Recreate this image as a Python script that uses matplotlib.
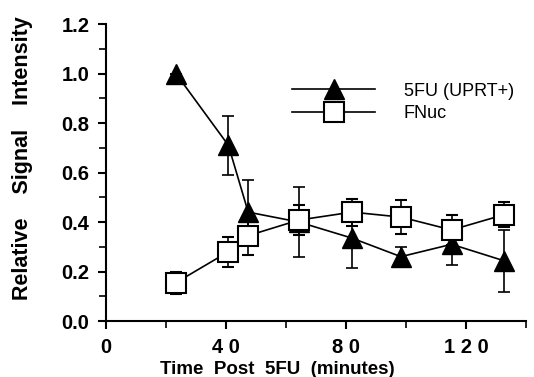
import matplotlib
matplotlib.use("Agg")
import matplotlib.pyplot as plt
from matplotlib.lines import Line2D
from matplotlib.ticker import MultipleLocator, FixedLocator, FormatStrFormatter

plt.rcParams['font.family'] = ['Liberation Sans', 'DejaVu Sans']

# time points (minutes)
time = [23.3, 40.8, 47.4, 64.3, 82.0, 98.3, 115.2, 132.8]

# 5FU (UPRT+)  - filled triangles
fu_mean = [1.00, 0.71, 0.44, 0.40, 0.335, 0.26, 0.31, 0.243]
fu_err = [0.0, 0.12, 0.13, 0.14, 0.12, 0.04, 0.085, 0.125]

# FNuc - open squares
fnuc_mean = [0.155, 0.28, 0.345, 0.408, 0.44, 0.42, 0.368, 0.43]
fnuc_err = [0.045, 0.06, 0.08, 0.06, 0.055, 0.07, 0.06, 0.05]

xtick_pos = [0, 40, 80, 120]
xtick_labels = ["0", "4 0", "8 0", "1 2 0"]

fig = plt.figure(figsize=(5.34, 3.77), dpi=100)
ax = fig.add_axes([0.1985, 0.1485, 0.7865, 0.7877])

ax.errorbar(time, fu_mean, yerr=fu_err, color='black', marker='^', markersize=14,
            markerfacecolor='black', linewidth=1.2, elinewidth=1.2, capsize=4,
            capthick=1.2, zorder=2)
ax.errorbar(time, fnuc_mean, yerr=fnuc_err, color='black', marker='s', markersize=15,
            markerfacecolor='white', markeredgewidth=1.5, linewidth=1.2,
            elinewidth=1.2, capsize=4, capthick=1.2, zorder=3)

ax.set_xlim(0, 140)
ax.set_ylim(0, 1.2)

ax.xaxis.set_major_locator(FixedLocator(xtick_pos))
ax.set_xticklabels(xtick_labels)
ax.xaxis.set_minor_locator(FixedLocator([20, 60, 100, 140]))
ax.yaxis.set_major_locator(MultipleLocator(0.2))
ax.yaxis.set_minor_locator(MultipleLocator(0.1))
ax.yaxis.set_major_formatter(FormatStrFormatter('%.1f'))

ax.tick_params(which='major', direction='out', length=6, width=1.5, labelsize=14.5)
ax.tick_params(which='minor', direction='out', length=5, width=1.2)
ax.tick_params(axis='x', which='major', pad=6)
ax.tick_params(axis='y', which='major', pad=6)
for lab in ax.get_xticklabels() + ax.get_yticklabels():
    lab.set_fontweight('bold')

for side in ['top', 'right']:
    ax.spines[side].set_visible(False)
for side in ['left', 'bottom']:
    ax.spines[side].set_linewidth(1.5)

ax.set_xlabel("Time  Post  5FU  (minutes)", fontsize=13.5, fontweight='bold')
ax.xaxis.set_label_coords(0.407, -0.135)
ax.set_ylabel("Relative    Signal    Intensity", fontsize=15.5, fontweight='bold')
ax.yaxis.set_label_coords(-0.175, 0.55)

handles = [
    Line2D([], [], color='black', linewidth=1.2, marker='^', markersize=14,
           markerfacecolor='black'),
    Line2D([], [], color='black', linewidth=1.2, marker='s', markersize=15,
           markerfacecolor='white', markeredgewidth=1.5),
]
ax.legend(handles, ['5FU (UPRT+)', 'FNuc'], loc='upper left',
          bbox_to_anchor=(0.443, 0.803), frameon=False, fontsize=13,
          handlelength=4.6, numpoints=1, labelspacing=0.3, handletextpad=1.6,
          borderpad=0, borderaxespad=0)

fig.savefig("out.png", dpi=100)
